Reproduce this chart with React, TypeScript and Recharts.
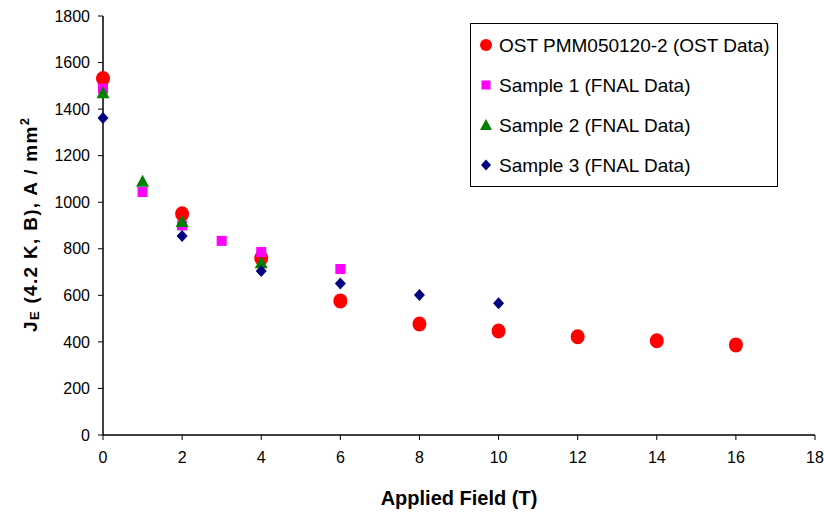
import React from 'react';
import { ScatterChart, Scatter, XAxis, YAxis, ZAxis } from 'recharts';

const ostX = [0, 2, 4, 6, 8, 10, 12, 14, 16];
const ostY = [1531, 950, 760, 576, 477, 447, 422, 405, 387];
const s1X = [0, 1, 2, 3, 4, 6];
const s1Y = [1488, 1044, 900, 834, 786, 713];
const s2X = [0, 1, 2, 4];
const s2Y = [1468, 1088, 915, 738];
const s3X = [0, 2, 4, 6, 8, 10];
const s3Y = [1362, 855, 704, 651, 601, 566];
const xTicks = [0, 2, 4, 6, 8, 10, 12, 14, 16, 18];
const yTicks = [0, 200, 400, 600, 800, 1000, 1200, 1400, 1600, 1800];
const names = [
  'OST PMM050120-2 (OST Data)',
  'Sample 1 (FNAL Data)',
  'Sample 2 (FNAL Data)',
  'Sample 3 (FNAL Data)',
];
const colors = ['#FF0000', '#FF00FF', '#008000', '#000080'];

const zip = (xs: number[], ys: number[]) => xs.map((x, i) => ({ x, y: ys[i] }));

const FONT = 'Liberation Sans Narrow, Arial Narrow, Liberation Sans, Arial, sans-serif';

const Circle = (p: any) => <ellipse cx={p.cx} cy={p.cy} rx={7} ry={7.5} fill={colors[0]} />;
const Square = (p: any) => <rect x={p.cx - 5} y={p.cy - 5} width={10} height={10} fill={colors[1]} />;
const Tri = (p: any) => (
  <path d={`M${p.cx},${p.cy - 7} L${p.cx + 6.5},${p.cy + 5} L${p.cx - 6.5},${p.cy + 5} Z`} fill={colors[2]} />
);
const Diamond = (p: any) => (
  <path d={`M${p.cx},${p.cy - 6} L${p.cx + 5.5},${p.cy} L${p.cx},${p.cy + 6} L${p.cx - 5.5},${p.cy} Z`} fill={colors[3]} />
);

const markerFor = (i: number, cx: number, cy: number) => {
  if (i === 0) return <circle cx={cx} cy={cy} r={6} fill={colors[0]} />;
  if (i === 1) return <rect x={cx - 4.5} y={cy - 4.5} width={9} height={9} fill={colors[1]} />;
  if (i === 2)
    return <path d={`M${cx},${cy - 6} L${cx + 6},${cy + 5} L${cx - 6},${cy + 5} Z`} fill={colors[2]} />;
  return <path d={`M${cx},${cy - 5.5} L${cx + 5},${cy} L${cx},${cy + 5.5} L${cx - 5},${cy} Z`} fill={colors[3]} />;
};

const LegendBox = () => (
  <svg width={309} height={165} style={{ display: 'block' }}>
    <rect x={0.5} y={0.5} width={307} height={163} fill="#fff" stroke="#000" strokeWidth={1} />
    {names.map((n, i) => (
      <g key={n}>
        {markerFor(i, 16, 22 + i * 40)}
        <text x={29} y={22 + i * 40 + 7} fontFamily="Liberation Sans, Arial, sans-serif" fontSize={19} fill="#000">
          {n}
        </text>
      </g>
    ))}
  </svg>
);

const YLabel = () => {
  const cx = 37;
  const cy = 225;
  return (
    <text
      transform={`translate(${cx},${cy}) rotate(-90)`}
      textAnchor="middle"
      fontFamily="Liberation Sans, Arial, sans-serif"
      fontWeight="bold"
      fontSize={19}
      fill="#000"
      textLength={214}
      lengthAdjust="spacing"
    >
      <tspan>J</tspan>
      <tspan fontSize={13} dy={2}>E</tspan>
      <tspan dy={-2}> (4.2 K, B), A / mm</tspan>
      <tspan fontSize={13} dy={-8}>2</tspan>
    </text>
  );
};

const XLabel = (props: any) => {
  const vb = props.viewBox || {};
  return (
    <text
      x={vb.x + vb.width / 2}
      y={505}
      textAnchor="middle"
      fontFamily={FONT}
      fontWeight="bold"
      fontSize={20}
      fill="#000"
    >
      Applied Field (T)
    </text>
  );
};

export default function App() {
  return (
    <div style={{ position: 'absolute', left: 0, top: 0, width: 824, height: 516, background: '#fff' }}>
      <ScatterChart width={824} height={516} margin={{ top: 16, right: 9, bottom: 51, left: 0 }}>
        <XAxis
          type="number"
          dataKey="x"
          domain={[0, 18]}
          ticks={xTicks}
          interval={0}
          height={30}
          axisLine={{ stroke: '#000', strokeWidth: 1.5 }}
          tickLine={{ stroke: '#000' }}
          tickSize={5}
          tickMargin={12}
          tick={{ fill: '#000', fontSize: 16, fontFamily: FONT }}
          label={<XLabel />}
        />
        <YAxis
          type="number"
          dataKey="y"
          domain={[0, 1800]}
          ticks={yTicks}
          interval={0}
          width={103}
          axisLine={{ stroke: '#000', strokeWidth: 1.5 }}
          tickLine={{ stroke: '#000' }}
          tickSize={5}
          tickMargin={8}
          tick={{ fill: '#000', fontSize: 16, fontFamily: FONT }}
          label={<YLabel />}
        />
        <ZAxis range={[60, 60]} />
        <Scatter name={names[0]} data={zip(ostX, ostY)} shape={<Circle />} isAnimationActive={false} />
        <Scatter name={names[1]} data={zip(s1X, s1Y)} shape={<Square />} isAnimationActive={false} />
        <Scatter name={names[2]} data={zip(s2X, s2Y)} shape={<Tri />} isAnimationActive={false} />
        <Scatter name={names[3]} data={zip(s3X, s3Y)} shape={<Diamond />} isAnimationActive={false} />
      </ScatterChart>
      <div style={{ position: 'absolute', top: 23, left: 470 }}>
        <LegendBox />
      </div>
    </div>
  );
}
